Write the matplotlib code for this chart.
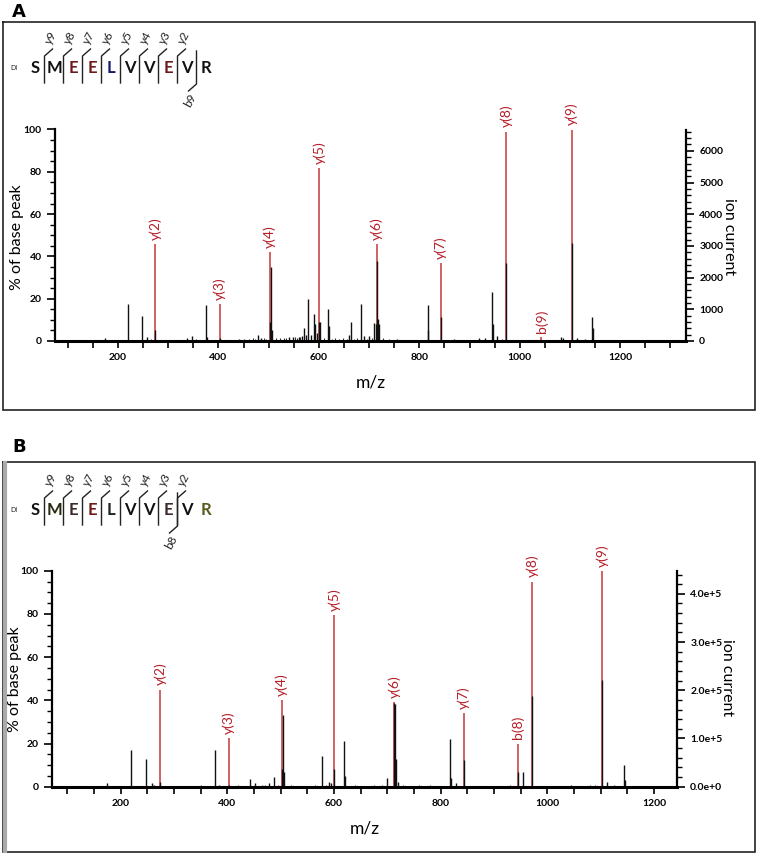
import numpy as np
import matplotlib
matplotlib.use("Agg")
import matplotlib.pyplot as plt
from matplotlib.ticker import MultipleLocator, FuncFormatter

plt.rcParams['font.family'] = ['Lato', 'DejaVu Sans']

# ---------------- data: panel A ----------------
a_ion_mz = [274, 403, 502, 601, 715, 843, 973, 1043, 1103]
a_ion_pct = [46, 17.6, 42, 81.6, 46, 37, 99, 2, 100]
a_ion_lab = ['y(2)', 'y(3)', 'y(4)', 'y(5)', 'y(6)', 'y(7)', 'y(8)', 'b(9)', 'y(9)']

a_peak_mz = [175, 220, 248, 258, 274, 338, 348, 376, 378, 403, 440, 478, 485,
             502, 504, 506, 540, 548, 560, 566, 570, 575, 578, 584, 590, 593,
             596, 600, 603, 618, 620, 660, 664, 684, 690, 700, 710, 713, 715,
             718, 720, 756, 817, 818, 843, 870, 918, 930, 945, 947, 954, 973,
             1083, 1087, 1103, 1113, 1130, 1143, 1145]
a_peak_pct = [1.2, 17.5, 12, 2, 5, 1.5, 2.5, 17, 2, 1.5, 1, 3, 1.5,
              9, 35, 5, 2, 2, 2, 2.5, 6, 3, 20, 3, 12.6, 8,
              4, 9, 9, 15, 7, 3, 9, 17.5, 2.5, 2.5, 8.5, 8, 38,
              10.5, 8, 1, 17, 5, 11.5, 1, 1.5, 1.5, 23, 8, 2.5, 37,
              2, 1.5, 46.5, 1.5, 1, 11.5, 6]
a_noise_mz = [190, 205, 232, 265, 290, 305, 320, 355, 362, 390, 415, 425, 450,
              460, 468, 472, 490, 495, 515, 522, 530, 535, 553, 557, 563, 610,
              626, 632, 640, 648, 655, 670, 676, 695, 705, 728, 740, 765, 780,
              795, 805, 830, 852, 860, 880, 895, 905, 965, 985, 1000, 1015,
              1060, 1075, 1120, 1160, 1180, 1200]
a_noise_pct = [0.5, 0.4, 0.6, 0.8, 0.5, 0.6, 0.5, 1.0, 0.7, 0.6, 0.5, 0.6, 0.8,
               1.0, 1.2, 0.9, 1.5, 1.0, 1.2, 1.3, 1.5, 1.6, 1.8, 1.4, 2.0, 1.5,
               1.0, 1.2, 0.8, 1.3, 0.9, 1.0, 1.4, 1.1, 1.6, 1.2, 0.8, 0.7, 0.6,
               0.5, 0.6, 0.7, 0.5, 0.6, 0.5, 0.4, 0.6, 0.8, 0.5, 0.4, 0.5,
               0.4, 0.5, 0.4, 0.3, 0.3, 0.3]
a_base_current = 6673

# ---------------- data: panel B ----------------
b_ion_mz = [274, 402, 502, 600, 713, 843, 945, 972, 1103]
b_ion_pct = [45, 22.4, 40, 79.5, 39, 34, 20, 95, 100]
b_ion_lab = ['y(2)', 'y(3)', 'y(4)', 'y(5)', 'y(6)', 'y(7)', 'b(8)', 'y(8)', 'y(9)']

b_peak_mz = [175, 220, 248, 258, 262, 274, 376, 385, 402, 443, 452, 478, 487,
             502, 504, 506, 578, 590, 594, 600, 618, 620, 700, 713, 715, 717,
             720, 817, 819, 828, 843, 945, 955, 972, 1045, 1103, 1112, 1143, 1145]
b_peak_pct = [1.5, 17, 13, 1.5, 1, 2, 17, 1, 1, 3.4, 1.5, 1.5, 4.5,
              8, 33, 7, 14, 2, 1.5, 8, 21, 5, 4, 38.7, 38.5, 13,
              2, 22, 4, 1.5, 12.5, 7, 7, 42, 1, 49.5, 2, 10, 3]
b_noise_mz = [195, 235, 290, 310, 330, 350, 360, 395, 420, 430, 465, 470, 495,
              520, 540, 555, 565, 585, 640, 660, 675, 690, 730, 745, 760, 780,
              800, 860, 880, 900, 920, 930, 990, 1010, 1030, 1060, 1080, 1090,
              1125, 1170, 1200]
b_noise_pct = [0.4, 0.5, 0.4, 0.5, 0.4, 0.6, 0.5, 0.5, 0.6, 0.5, 0.6, 0.7, 0.8,
               0.6, 0.5, 0.5, 0.7, 1.0, 0.6, 0.5, 0.8, 1.0, 0.6, 0.5, 0.8, 0.6,
               0.5, 0.4, 0.5, 0.4, 0.5, 0.7, 0.4, 0.5, 0.4, 0.5, 0.6, 0.8,
               0.6, 0.3, 0.3]
b_base_current = 4.48e5

sequence = ['S', 'M', 'E', 'E', 'L', 'V', 'V', 'E', 'V', 'R']
a_seq_colors = ['#111111', '#111111', '#6e1a1a', '#6e1a1a', '#1a1a6a',
                '#111111', '#111111', '#6e1a1a', '#111111', '#111111']
b_seq_colors = ['#111111', '#2a2a10', '#3a2a2a', '#6e1a1a', '#222222',
                '#111111', '#111111', '#3a2a2a', '#111111', '#5a5a20']
y_cut_labels = ['y9', 'y8', 'y7', 'y6', 'y5', 'y4', 'y3', 'y2']

RED_LINE = '#c84848'
RED_TEXT = '#b41e28'

W, H = 760, 859
fig = plt.figure(figsize=(W / 100, H / 100), dpi=100)

# overlay in pixel coordinates for frames and sequence annotation
ov = fig.add_axes([0, 0, 1, 1])
ov.set_xlim(0, W)
ov.set_ylim(H, 0)
ov.axis('off')


def frame(top, bottom):
    ov.plot([3, 755, 755, 3, 3], [top, top, bottom, bottom, top],
            color='#222222', lw=1.2, solid_joinstyle='miter')


def draw_sequence(y0, colors, b_idx, b_label):
    ov.text(14, y0, 'DI', fontsize=5, ha='center', va='center', color='#222222',
            family=['DejaVu Sans'])
    xs = [35 + 19 * i for i in range(len(sequence))]
    for x, s, c in zip(xs, sequence, colors):
        ov.text(x, y0, s, fontsize=12, fontweight='bold', color=c,
                ha='center', va='center')
    for i, lab in enumerate(y_cut_labels):
        xc = xs[i] + 9.5
        ov.plot([xc, xc, xc + 8], [y0 + 15, y0 - 12, y0 - 19], color='#222222', lw=1.0)
        ov.text(xc + 7, y0 - 30, lab, fontsize=8.5, rotation=62,
                ha='center', va='center', color='#222222')
    xb = xs[b_idx] + 9.5
    ov.plot([xb, xb, xb - 8], [y0 - 17, y0 + 16, y0 + 23], color='#222222', lw=1.0)
    ov.text(xb - 6, y0 + 32, b_label, fontsize=8.5, rotation=62,
            ha='center', va='center', color='#222222')


def spectrum(rect, xlim, ion_mz, ion_pct, ion_lab, pk_mz, pk_pct, nz_mz, nz_pct,
             base, r_major, r_minor, r_fmt):
    ax = fig.add_axes(rect)
    ax.vlines(nz_mz, 0, nz_pct, color='#333333', lw=0.8)
    ax.vlines(ion_mz, 0, ion_pct, color=RED_LINE, lw=1.2)
    ax.vlines(pk_mz, 0, pk_pct, color='#111111', lw=1.0)
    for m, p, t in zip(ion_mz, ion_pct, ion_lab):
        ax.annotate(t, (m, p), xytext=(0, 3), textcoords='offset points',
                    rotation=90, ha='center', va='bottom', color=RED_TEXT,
                    fontsize=10)
    ax.set_xlim(*xlim)
    ax.set_ylim(0, 100)
    ax.xaxis.set_major_locator(MultipleLocator(200))
    ax.xaxis.set_minor_locator(MultipleLocator(50))
    ax.yaxis.set_major_locator(MultipleLocator(20))
    ax.yaxis.set_minor_locator(MultipleLocator(5))
    ax.spines['top'].set_visible(False)
    ax.spines['right'].set_visible(False)
    ax.spines['bottom'].set_linewidth(2.2)
    ax.spines['left'].set_linewidth(1.6)
    ax.tick_params(axis='x', which='both', direction='out', length=5, width=1.2,
                   labelsize=7.5)
    ax.tick_params(axis='y', which='major', direction='out', length=6, width=1.2,
                   labelsize=7.5)
    ax.tick_params(axis='y', which='minor', direction='out', length=3.5, width=1.0)
    for lbl in ax.get_xticklabels() + ax.get_yticklabels():
        lbl.set_fontweight('bold')
    ax.patch.set_alpha(0)

    ax2 = ax.twinx()
    ax2.set_ylim(0, base)
    ax2.yaxis.set_major_locator(MultipleLocator(r_major))
    ax2.yaxis.set_minor_locator(MultipleLocator(r_minor))
    ax2.yaxis.set_major_formatter(FuncFormatter(r_fmt))
    for s in ['top', 'left', 'bottom']:
        ax2.spines[s].set_visible(False)
    ax2.spines['right'].set_linewidth(1.6)
    ax2.tick_params(axis='y', which='major', direction='out', length=6, width=1.2,
                    labelsize=7.5)
    ax2.tick_params(axis='y', which='minor', direction='out', length=3.5, width=1.0)
    for lbl in ax2.get_yticklabels():
        lbl.set_fontweight('bold')
    return ax


def px_rect(left, right, top, bottom):
    return [left / W, (H - bottom) / H, (right - left) / W, (bottom - top) / H]


# ---------------- panel A ----------------
fig.text(12 / W, 1 - 12 / H, 'A', fontsize=13, fontweight='bold', ha='left', va='center',
         family=['DejaVu Sans'])
frame(22, 410)
draw_sequence(68, a_seq_colors, 8, 'b9')
spectrum(px_rect(55, 686, 129.5, 341), (74.5, 1331), a_ion_mz, a_ion_pct, a_ion_lab,
         a_peak_mz, a_peak_pct, a_noise_mz, a_noise_pct, a_base_current, 1000, 200,
         lambda v, p: f'{v:.0f}')
ov.text(17, 237, '% of base peak', rotation=90, fontsize=11.5, ha='center', va='center')
ov.text(729, 237, 'ion current', rotation=270, fontsize=11.5, ha='center', va='center')
ov.text(371, 383, 'm/z', fontsize=12.5, ha='center', va='center')

# ---------------- panel B ----------------
fig.text(12 / W, 1 - 447 / H, 'B', fontsize=13, fontweight='bold', ha='left', va='center',
         family=['DejaVu Sans'])
frame(462, 852)
ov.plot([4.5, 4.5], [463, 851], color='#aaaaaa', lw=3)
draw_sequence(510, b_seq_colors, 7, 'b8')
spectrum(px_rect(52, 677, 570.7, 786.7), (71, 1243), b_ion_mz, b_ion_pct, b_ion_lab,
         b_peak_mz, b_peak_pct, b_noise_mz, b_noise_pct, b_base_current, 1e5, 2e4,
         lambda v, p: '0.0e+0' if v == 0 else f'{v / 1e5:.1f}e+5')
ov.text(15, 679, '% of base peak', rotation=90, fontsize=11.5, ha='center', va='center')
ov.text(727, 678, 'ion current', rotation=270, fontsize=11.5, ha='center', va='center')
ov.text(365, 828, 'm/z', fontsize=12.5, ha='center', va='center')

fig.savefig('out.png', dpi=100)
